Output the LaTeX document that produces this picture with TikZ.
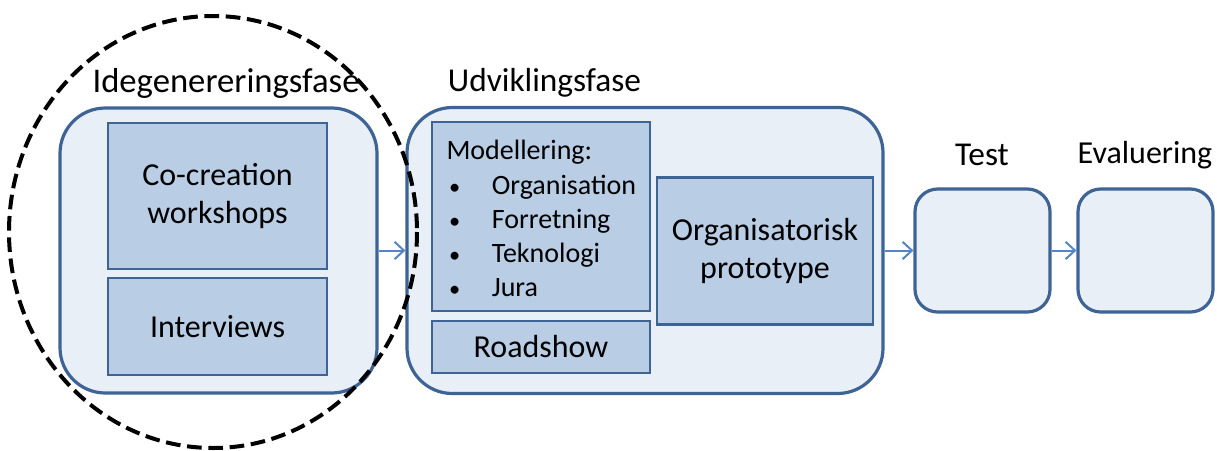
\documentclass[tikz,border=0pt]{standalone}
\usepackage{fontspec}
\setmainfont{Carlito}
\usetikzlibrary{arrows.meta}

\definecolor{boxline}{RGB}{62,100,150}
\definecolor{outerfill}{RGB}{233,239,247}
\definecolor{innerfill}{RGB}{185,205,229}
\definecolor{arrowblue}{RGB}{84,134,198}

\tikzset{every picture/.style={line width=0.75pt}}
\tikzset{
  phase/.style={draw=boxline, fill=outerfill, line width=2.4pt, rounded corners=34pt},
  smallphase/.style={draw=boxline, fill=outerfill, line width=2.4pt, rounded corners=17pt},
  activity/.style={draw=boxline, fill=innerfill, line width=2pt, align=center, font=\fontsize{24}{29}\selectfont},
  phasetitle/.style={font=\fontsize{25}{30}\selectfont},
  flow/.style={draw=arrowblue, line width=1.5pt, -{Straight Barb[length=7pt,width=13pt,line width=1.5pt]}}
}
\newcommand{\listbullet}{\makebox[34pt][l]{\hspace{2pt}\scalebox{0.8}{\textbullet}}}

\begin{document}
\begin{tikzpicture}[x=0.75pt,y=0.75pt,yscale=-1,xscale=1]
	\useasboundingbox (0,0) rectangle (1217,450);

	%Outer phases
	\node[phase, minimum width=237.75pt, minimum height=213.75pt] (ide) at (218.5,250.5) {};
	\node[phase, minimum width=357pt, minimum height=214.5pt] (udv) at (645,250.5) {};
	\node[smallphase, minimum width=101.25pt, minimum height=92.25pt] (test) at (982.5,250.5) {};
	\node[smallphase, minimum width=101.25pt, minimum height=92.25pt] (eval) at (1145.5,250.5) {};

	%Titles
	\node[phasetitle, font=\fontsize{26}{31}\selectfont] (idetitle) at (226,83) {Idegenereringsfase};
	\node[phasetitle] (udvtitle) at (544.5,83) {Udviklingsfase};
	\node[phasetitle] (testtitle) at (982,155) {Test};
	\node[phasetitle, font=\fontsize{24}{29}\selectfont] (evaltitle) at (1145,155) {Evaluering};

	%Activities
	\node[activity, minimum width=164.25pt, minimum height=109.5pt] (cocreation) at (217.5,196) {Co-creation\\workshops};
	\node[activity, minimum width=164.25pt, minimum height=72.75pt] (interviews) at (217.5,326.5) {Interviews};
	\node[activity, minimum width=163.5pt, minimum height=141.75pt] (modellering) at (541,216.5) {};
	\node[activity, minimum width=163.5pt, minimum height=39pt] (roadshow) at (541,347) {Roadshow};
	\node[activity, minimum width=162pt, minimum height=110.25pt] (prototype) at (765,251) {Organisatorisk\\prototype};

	%Modellering list
	\node[anchor=north west, inner sep=0pt, align=left, font=\fontsize{21}{25.6}\selectfont] (modtext) at (446,140)
	  {Modellering:\\
	   \listbullet Organisation\\
	   \listbullet Forretning\\
	   \listbullet Teknologi\\
	   \listbullet Jura};

	%Flow arrows
	\draw[flow] (ide) -- (udv);
	\draw[flow] (udv) -- (test);
	\draw[flow] (test) -- (eval);

	%Dashed ellipse
	\draw[line width=3pt, dash pattern=on 11pt off 5pt] (213,232) ellipse (204 and 216);

\end{tikzpicture}
\end{document}
